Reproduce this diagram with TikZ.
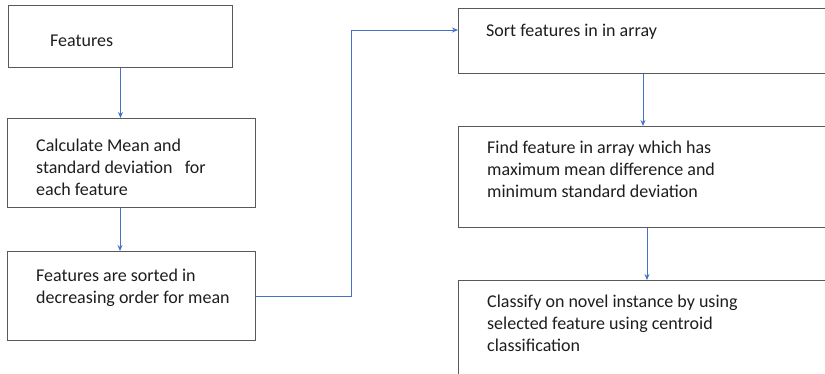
\documentclass[tikz,border=0pt]{standalone}
\usepackage{fontspec}
\setmainfont{Carlito}
\usetikzlibrary{calc,arrows.meta}
\definecolor{boxline}{RGB}{89,89,89}
\definecolor{conn}{RGB}{68,114,196}
\definecolor{txtc}{RGB}{30,30,30}
\tikzset{
  box/.style={draw=boxline, line width=1pt, anchor=north west, inner sep=0pt, fill=white},
  txt/.style={anchor=north west, inner sep=0pt, align=left, text=txtc, font=\fontsize{18}{22}\selectfont},
  conn/.style={draw=conn, line width=0.9pt, -{Stealth[length=6pt,width=5pt]}},
}
\begin{document}
\begin{tikzpicture}[x=1pt,y=-1pt]
\useasboundingbox (0,0) rectangle (825,373);
\clip (0,0) rectangle (825,373);
% left column
\node[box, minimum width=224, minimum height=62] (b1) at (8,5) {};
\node[txt] (t1) at (50,35) {Features};
\node[box, minimum width=248, minimum height=89] (b2) at (7,118) {};
\node[txt] (t2) at (36,139) {Calculate Mean and\\standard deviation \ \ for\\each feature};
\node[box, minimum width=248, minimum height=89] (b3) at (7,251) {};
\node[txt] (t3) at (36,269) {Features are sorted in\\decreasing order for mean};
% right column
\node[box, minimum width=380, minimum height=65] (b4) at (458,8) {};
\node[txt] (t4) at (486,24) {Sort features in in array};
\node[box, minimum width=380, minimum height=101] (b5) at (458,126) {};
\node[txt] (t5) at (487,141) {Find feature in array which has\\maximum mean difference and\\minimum standard deviation};
\node[box, minimum width=380, minimum height=120] (b6) at (458,280) {};
\node[txt] (t6) at (487,295) {Classify on novel instance by using\\selected feature using centroid\\classification};
% connectors
\draw[conn] (b1.south) -- (b1.south |- b2.north);
\coordinate (c2) at ($(b2.south west)+(113,0)$);
\draw[conn] (c2) -- (c2 |- b3.north);
\coordinate (c3) at (351,0);
\coordinate (c4) at ($(b4.north west)+(0,22)$);
\draw[conn] (b3.east) -- (c3 |- b3.east) -- (c3 |- c4) -- (c4);
\coordinate (c5) at ($(b4.south west)+(185,0)$);
\draw[conn] (c5) -- (c5 |- b5.north);
\coordinate (c6) at ($(b5.south west)+(189,0)$);
\draw[conn] (c6) -- (c6 |- b6.north);
\end{tikzpicture}
\end{document}
